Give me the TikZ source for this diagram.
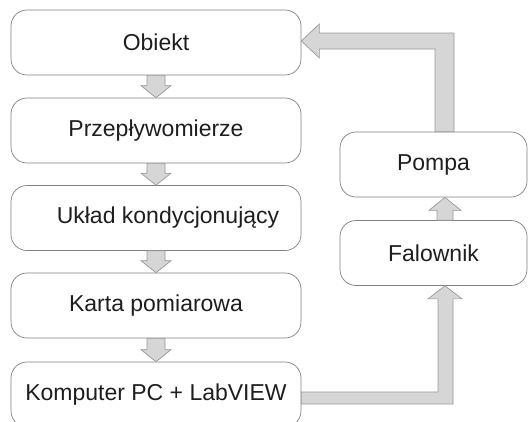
\documentclass[tikz,border=0pt]{standalone}
\usepackage{fontspec}
\setmainfont{Liberation Sans}
\usepackage{tikz}
\usetikzlibrary{calc}
\definecolor{ramka}{HTML}{808080}
\definecolor{szary}{HTML}{D6D6D6}
\definecolor{obrys}{HTML}{999999}
\definecolor{napis}{HTML}{1E1E1E}
\tikzstyle{blok}=[draw=ramka, line width=.7pt, rounded corners=16pt, minimum height=65pt, inner sep=0pt, text=napis, font=\fontsize{23}{27}\selectfont]
\tikzstyle{strzalka}=[draw=obrys, fill=szary, line width=.7pt, line join=miter]

\begin{document}
\begin{tikzpicture}[x=1pt, y=-1pt]
  \useasboundingbox (0,0) rectangle (528,421);
  \clip (0,0) rectangle (528,421);
  % lewa kolumna
  \node[blok, minimum width=290pt] (obiekt) at (156,42.5) {Obiekt};
  \node[blok, minimum width=290pt] (przeplyw) at (156,130.5) {Przepływomierze};
  \node[blok, minimum width=290pt] (uklad) at (156,218) {\hspace*{24pt}Układ kondycjonujący};
  \node[blok, minimum width=290pt] (karta) at (156,305.5) {Karta pomiarowa};
  \node[blok, minimum width=290pt] (komputer) at (156,394.5) {Komputer PC + LabVIEW};
  % prawa kolumna
  \node[blok, minimum width=187pt] (pompa) at (433.5,164.5) {Pompa};
  \node[blok, minimum width=187pt] (falownik) at (433.5,253) {Falownik};

  \foreach \a/\b in {obiekt/przeplyw, przeplyw/uklad, uklad/karta, karta/komputer}
    \draw[strzalka] ($(\a.south)+(-9,0)$) -- ($(\b.north)+(-9,-12)$) -- ($(\b.north)+(-15,-12)$) -- (\b.north)
      -- ($(\b.north)+(15,-12)$) -- ($(\b.north)+(9,-12)$) -- ($(\a.south)+(9,0)$) -- cycle;

  \coordinate (pion) at (445,0);
  \coordinate (fp) at (falownik.north -| pion);
  \coordinate (ps) at (pompa.south -| pion);
  \coordinate (fb) at (falownik.south -| pion);
  \coordinate (pt) at (pompa.north -| pion);
  \coordinate (kp) at ($(komputer.east)+(0,3.5)$);
  \coordinate (kr) at (kp -| pion);
  \coordinate (oe) at ($(obiekt.east)+(0,-1.5)$);
  \coordinate (or) at (oe -| pion);

  % falownik -> pompa
  \draw[strzalka] ($(fp)+(-8,0)$) -- ($(ps)+(-8,13)$) -- ($(ps)+(-16,13)$) -- (ps)
    -- ($(ps)+(16,13)$) -- ($(ps)+(8,13)$) -- ($(fp)+(8,0)$) -- cycle;
  % komputer -> falownik
  \draw[strzalka] ($(kp)+(0,-6)$) -- ($(kr)+(-7,-6)$) -- ($(fb)+(-7,13)$) -- ($(fb)+(-17,13)$) -- (fb)
    -- ($(fb)+(17,13)$) -- ($(fb)+(8,13)$) -- ($(kr)+(8,6)$) -- ($(kp)+(0,6)$) -- cycle;
  % pompa -> obiekt
  \draw[strzalka] ($(pt)+(-10,0)$) -- ($(or)+(-10,8)$) -- ($(oe)+(18,8)$) -- ($(oe)+(18,17)$) -- (oe)
    -- ($(oe)+(18,-17)$) -- ($(oe)+(18,-8)$) -- ($(or)+(9,-8)$) -- ($(pt)+(9,0)$) -- cycle;
\end{tikzpicture}
\end{document}
